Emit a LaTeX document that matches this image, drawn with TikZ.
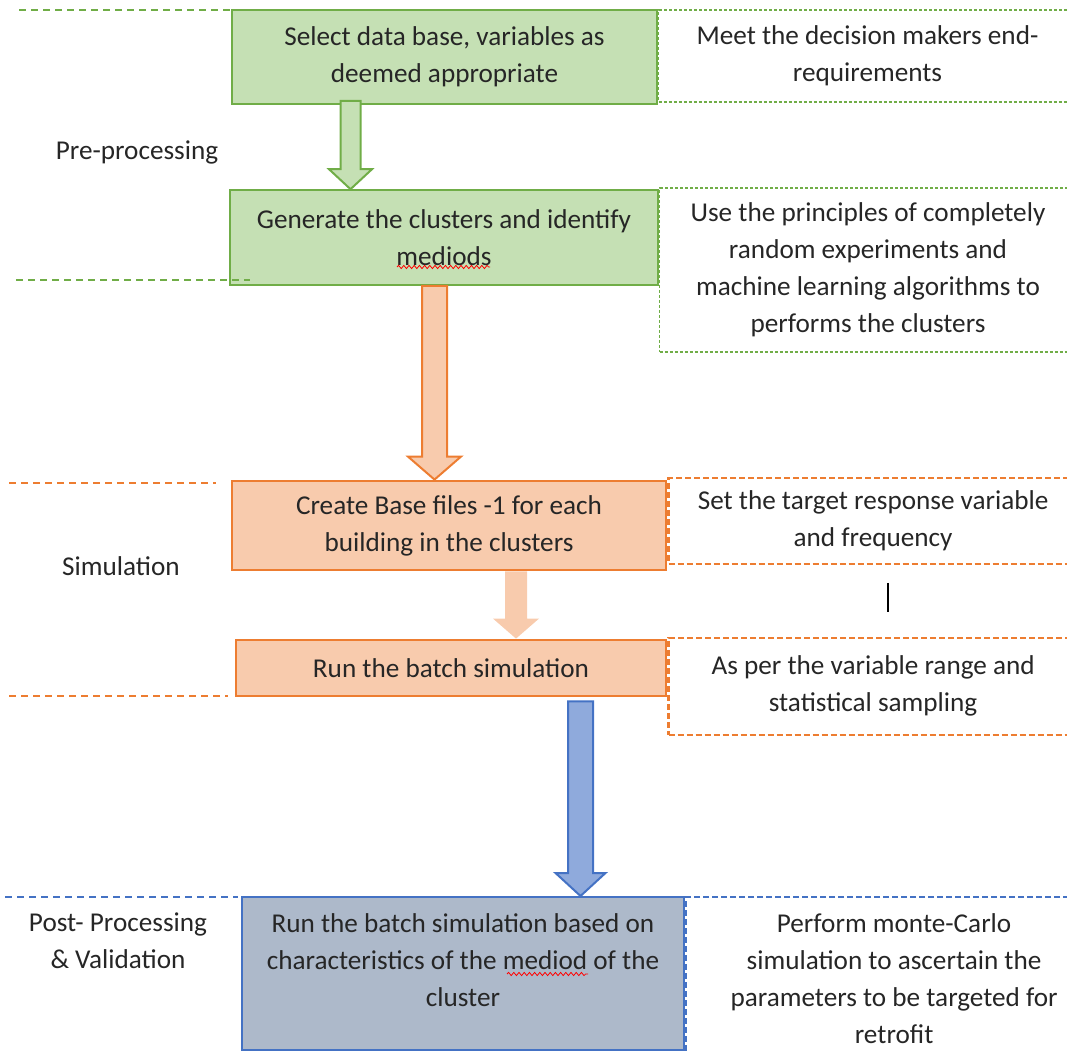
\documentclass[tikz,border=0pt]{standalone}
\usepackage{fontspec}
\setmainfont{Carlito}
\usepackage{xcolor}
\usepackage{tikz}
\usetikzlibrary{shapes,arrows,positioning,calc,decorations.pathmorphing}
\definecolor{gfill}{RGB}{197,224,180}
\definecolor{gline}{RGB}{112,173,71}
\definecolor{ofill}{RGB}{248,203,173}
\definecolor{oline}{RGB}{237,125,49}
\definecolor{bfill}{RGB}{143,170,220}
\definecolor{bline}{RGB}{68,114,196}
\definecolor{pfill}{RGB}{173,185,202}
\definecolor{txt}{RGB}{38,38,38}

% block arrow: style, start, tip, half shaft, half head, head length
\newcommand{\blockarrow}[6]{%
  \draw[#1] let \p1=#2, \p2=#3 in
    (\x1-#4,\y1) -- (\x1-#4,\y2+#6) -- (\x1-#5,\y2+#6) -- (\x1,\y2)
    -- (\x1+#5,\y2+#6) -- (\x1+#4,\y2+#6) -- (\x1+#4,\y1) -- cycle;}

\begin{document}
\begin{tikzpicture}[x=0.5pt, y=-0.5pt, font=\fontsize{13.6}{18.5}\selectfont, text=txt]
\tikzstyle{gbox} = [rectangle, draw=gline, fill=gfill, line width=0.8pt, align=center, inner sep=0pt]
\tikzstyle{obox} = [rectangle, draw=oline, fill=ofill, line width=1.4pt, align=center, inner sep=0pt]
\tikzstyle{pbox} = [rectangle, draw=bline, fill=pfill, line width=1pt, align=center, inner sep=0pt]
\tikzstyle{gside} = [rectangle, draw=gline, dash pattern=on 1.5pt off 1pt, line width=0.7pt, align=center, inner sep=0pt]
\tikzstyle{oside} = [rectangle, draw=oline, dash pattern=on 3pt off 1.5pt, line width=1.2pt, align=center, inner sep=0pt]
\tikzstyle{bside} = [rectangle, draw=bline, dash pattern=on 3pt off 1.5pt, line width=1.1pt, align=center, inner sep=0pt]
\tikzstyle{lbl} = [align=center]
\tikzstyle{sep} = [dash pattern=on 3.5pt off 2.5pt, line width=0.8pt]
\tikzstyle{garr} = [draw=gline, fill=gfill, line width=1pt]
\tikzstyle{oarr} = [draw=oline, fill=ofill, line width=1pt]
\tikzstyle{oarrb} = [draw=none, fill=ofill]
\tikzstyle{barr} = [draw=bline, fill=bfill, line width=1pt]
\tikzstyle{wavy} = [red, line width=0.4pt, decorate, decoration={snake, amplitude=0.8pt, segment length=2.6pt}]
\useasboundingbox (0,0) rectangle (1067,1053);

% pre-processing
\node [gbox, minimum width=212.5pt, minimum height=47pt] (sel) at (444.5,57) {Select data base, variables as\\deemed appropriate};
\node [gside, minimum width=209pt, minimum height=46pt, anchor=north west] (selnote) at (sel.north east) {Meet the decision makers end-\\requirements};
\node [gbox, minimum width=214pt, minimum height=47.5pt] (gen) at (444,237.5) {Generate the clusters and identify\\mediods};
\node [gside, minimum width=208.5pt, minimum height=82pt, anchor=north west, yshift=1pt] (gennote) at (gen.north east) {Use the principles of completely\\random experiments and\\machine learning algorithms to\\performs the clusters};
\node [lbl] (pre) at (137,152) {Pre-processing};

% simulation
\node [obox, minimum width=217pt, minimum height=44.5pt] (base) at (449,525.5) {Create Base files -1 for each\\building in the clusters};
\node [oside, minimum width=204.5pt, minimum height=43pt, anchor=north west, yshift=1.5pt] (basenote) at (base.north east) {Set the target response variable\\and frequency};
\node [obox, minimum width=215pt, minimum height=28pt] (batch) at (451,668) {Run the batch simulation};
\node [oside, minimum width=204.5pt, minimum height=48.5pt, anchor=north west, yshift=1pt] (batchnote) at (batch.north east) {As per the variable range and\\statistical sampling};
\node [lbl] (sim) at (121,566) {Simulation};

% post-processing
\node [pbox, minimum width=221pt, minimum height=76.5pt] (post) at (463,973.5) {};
\node [lbl] (posttext) at ($(post.center)+(0,6.75pt)$) {Run the batch simulation based on\\characteristics of the mediod of the\\cluster};
\node [bside, minimum width=208pt, minimum height=81.5pt, anchor=north west] (postnote) at (post.north east) {Perform monte-Carlo\\simulation to ascertain the\\parameters to be targeted for\\retrofit};
\node [lbl] (postlbl) at (118,941) {Post- Processing\\\& Validation};

% separators
\draw [sep, draw=gline] (19,10) -- (250,10);
\draw [sep, draw=gline] (16,280) -- (250,280);
\draw [sep, draw=oline] (9,483) -- (216,483);
\draw [sep, draw=oline] (9,696) -- (228,696);
\draw [sep, draw=bline] (5,897) -- (238,897);

% arrows
\blockarrow{garr}{($(sel.south)+(-47pt,2pt)$)}{(gen.north)}{5pt}{10.75pt}{10pt}
\blockarrow{oarr}{($(gen.south)+(-4.75pt,0)$)}{(base.north)}{6.25pt}{13.25pt}{11.5pt}
\blockarrow{oarrb}{($(base.south)+(33.5pt,0)$)}{(batch.north)}{5.5pt}{11.5pt}{10pt}
\blockarrow{barr}{($(batch.south)+(64.75pt,-2pt)$)}{(post.north)}{6.25pt}{12.5pt}{11.5pt}

\draw [line width=0.6pt, black] (888,583) -- (888,612);
\draw [wavy] (397,267) -- (490,267);
\draw [wavy] (507,974) -- (588,974);
\end{tikzpicture}
\end{document}
